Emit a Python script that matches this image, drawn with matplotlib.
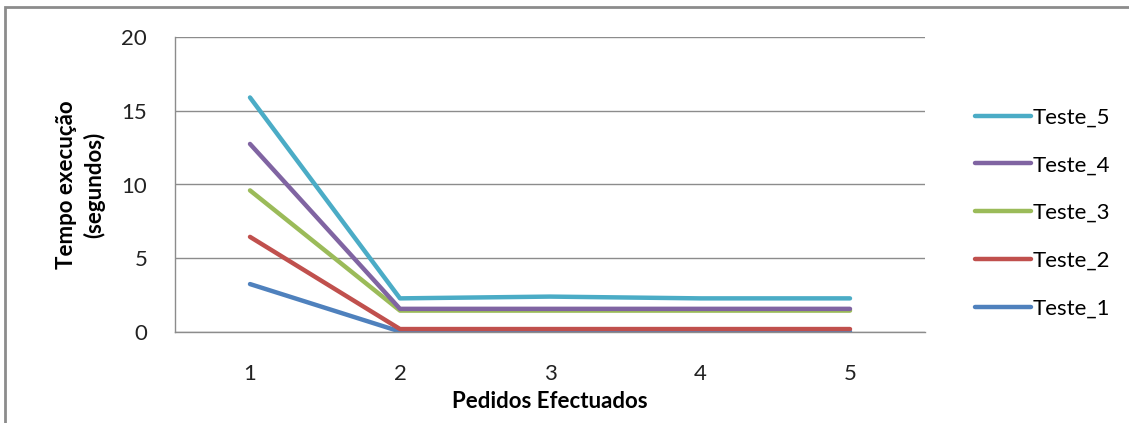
import matplotlib.pyplot as plt
from matplotlib.patches import Rectangle

plt.rcParams['font.family'] = ['Lato', 'DejaVu Sans']

pedidos = [1, 2, 3, 4, 5]
teste_1 = [3.25, 0.03, 0.03, 0.03, 0.03]
teste_2 = [6.45, 0.2, 0.2, 0.2, 0.2]
teste_3 = [9.6, 1.45, 1.45, 1.45, 1.45]
teste_4 = [12.75, 1.57, 1.57, 1.57, 1.57]
teste_5 = [15.9, 2.28, 2.4, 2.28, 2.28]

series = [
    ('Teste_1', teste_1, '#4F81BD'),
    ('Teste_2', teste_2, '#C0504D'),
    ('Teste_3', teste_3, '#9BBB59'),
    ('Teste_4', teste_4, '#8064A2'),
    ('Teste_5', teste_5, '#4BACC6'),
]

fig = plt.figure(figsize=(11.29, 4.23), dpi=100)
ax = fig.add_axes([175 / 1129, 1 - 332 / 423, 750 / 1129, 295 / 423])

# outer chart border (only top/left visible in the crop)
fig.patches.append(Rectangle((5 / 1129, -0.2), 1.2, 1.2 - 7 / 423, transform=fig.transFigure,
                             fill=False, edgecolor='#8c8c8c', linewidth=2))

handles = []
for name, vals, col in series:
    h, = ax.plot(pedidos, vals, color=col, linewidth=3.2, solid_capstyle='round',
                 solid_joinstyle='round', label=name)
    handles.append(h)

ax.set_xlim(0.5, 5.5)
ax.set_ylim(0, 20)
ax.set_yticks([0, 5, 10, 15, 20])
ax.set_xticks(pedidos)
ax.grid(axis='y', color='#8c8c8c', linewidth=1)
ax.set_axisbelow(True)
for s in ['top', 'right']:
    ax.spines[s].set_visible(False)
for s in ['left', 'bottom']:
    ax.spines[s].set_color('#8c8c8c')
    ax.spines[s].set_linewidth(1)
ax.tick_params(length=0, labelsize=16, colors='#222222')
ax.tick_params(axis='y', pad=20)
ax.tick_params(axis='x', pad=23)

ax.set_xlabel('Pedidos Efectuados', fontsize=16, fontweight='bold', labelpad=5)
ax.set_ylabel('Tempo execução\n(segundos)', fontsize=16, fontweight='bold', labelpad=12,
              linespacing=1.3)

fig.legend(handles[::-1], [h.get_label() for h in handles[::-1]],
           loc='center left', bbox_to_anchor=(955 / 1129, 1 - 213 / 423),
           frameon=False, fontsize=16, handlelength=2.5, handletextpad=0.1,
           labelspacing=1.25)

fig.savefig('out.png', dpi=100)
